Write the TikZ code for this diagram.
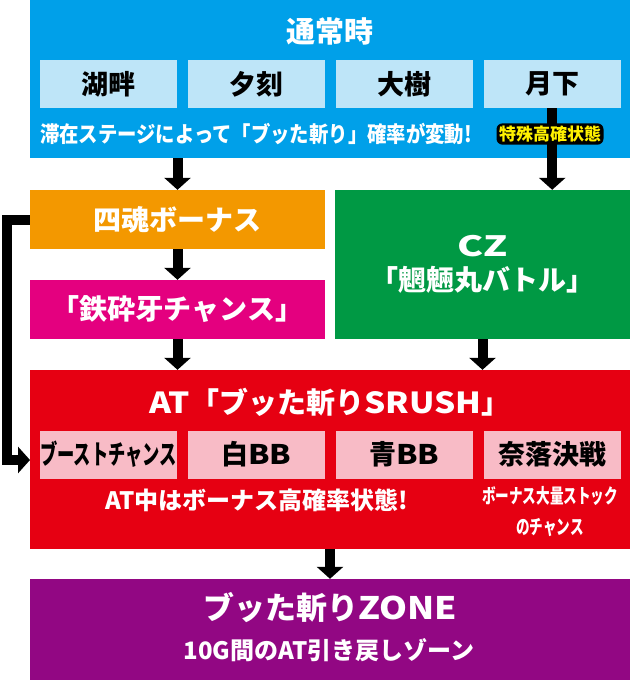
\documentclass[tikz,border=0pt]{standalone}
\usepackage{fontspec}
\setmainfont{Noto Sans CJK JP}[BoldFont={Noto Sans CJK JP Black}]
\usetikzlibrary{arrows.meta,positioning}

\definecolor{normalblue}{RGB}{0,160,233}
\definecolor{stageblue}{RGB}{190,229,248}
\definecolor{bonusorange}{RGB}{243,152,0}
\definecolor{czgreen}{RGB}{0,153,68}
\definecolor{chancepink}{RGB}{228,0,127}
\definecolor{rushred}{RGB}{230,0,18}
\definecolor{rushpink}{RGB}{248,187,198}
\definecolor{zonepurple}{RGB}{146,7,131}
\definecolor{tokuyellow}{RGB}{255,241,0}

\newcommand{\wide}[1]{\scalebox{1.15}[1]{#1}}

\tikzstyle{panel} = [rectangle, inner sep=0pt, minimum width=600pt]
\tikzstyle{half} = [rectangle, inner sep=0pt, minimum width=295pt, minimum height=59pt,
    text=white, align=center, font=\bfseries\fontsize{28}{34}\selectfont]
\tikzstyle{stage} = [rectangle, inner sep=0pt, minimum width=137pt, minimum height=48pt,
    font=\bfseries\fontsize{27}{27}\selectfont]
\tikzstyle{title} = [inner sep=0pt, text=white, font=\bfseries\fontsize{29}{29}\selectfont]
\tikzstyle{note} = [inner sep=0pt, text=white, align=center, font=\bfseries\fontsize{22}{31}\selectfont]
\tikzstyle{flow} = [draw, line width=10pt, -{Triangle[width=26pt,length=12pt]}]

\begin{document}
\begin{tikzpicture}[x=1pt, y=-1pt]
	\useasboundingbox (0,0) rectangle (630,680);

	% normal play
	\node [panel, fill=normalblue, minimum height=158pt] (normal) at (330,79) {};
	\node [title] (normaltitle) at (330,31) {通常時};
	\node [stage, fill=stageblue] (lake) at (108.5,84) {湖畔};
	\node [stage, fill=stageblue, right=10.5pt of lake] (dusk) {夕刻};
	\node [stage, fill=stageblue, right=10.5pt of dusk] (tree) {大樹};
	\node [stage, fill=stageblue, right=10.5pt of tree] (moon) {月下};
	\node [note, anchor=west] (stagenote) at (40,134) {\scalebox{0.88}[1]{滞在ステージによって「ブッた斬り」確率が変動!}};

	% bonus, chance and cz
	\node [half, fill=bonusorange] (yonkon) at (177.5,219.5) {四魂ボーナス};
	\node [half, fill=chancepink] (tessaiga) at (177.5,309.5) {「鉄砕牙チャンス」};
	\node [half, fill=czgreen, minimum height=149pt] (cz) at (482.5,264.5)
		{\scalebox{1.4}[1]{CZ}\\「魍魎丸バトル」};

	% at
	\node [panel, fill=rushred, minimum height=179pt] (rush) at (330,459.5) {};
	\node [title] (rushtitle) at (330,402) {\wide{AT}「ブッた斬り\wide{SRUSH}」};
	\node [stage, fill=rushpink] (boost) at (108.5,454.5) {\scalebox{0.64}[1]{ブーストチャンス}};
	\node [stage, fill=rushpink, right=10.5pt of boost] (white) {白\wide{BB}};
	\node [stage, fill=rushpink, right=10.5pt of white] (blue) {青\wide{BB}};
	\node [stage, fill=rushpink, right=10.5pt of blue] (naraku) {奈落決戦};
	\node [note, font=\bfseries\fontsize{24}{24}\selectfont] (rushnote) at (257,500) {AT中はボーナス高確率状態!};
	\node [note, font=\bfseries\fontsize{20}{31}\selectfont] (stocknote) at (550,512)
		{\scalebox{0.68}[1]{ボーナス大量ストック}\\\scalebox{0.68}[1]{のチャンス}};

	% zone
	\node [panel, fill=zonepurple, minimum height=101pt] (zone) at (330,629.5) {};
	\node [title, font=\bfseries\fontsize{31}{31}\selectfont] (zonetitle) at (330,608) {ブッた斬り\wide{ZONE}};
	\node [note, font=\bfseries\fontsize{24}{24}\selectfont] (zonenote) at (329,650) {10G間のAT引き戻しゾーン};

	\coordinate (rushin) at (30,460);

	\path [flow] (yonkon.north |- normal.south) -- (yonkon.north);
	\path [flow] (moon.south) -- (moon.south |- cz.north);
	\path [flow] (yonkon.south) -- (tessaiga.north);
	\path [flow] (tessaiga.south) -- (tessaiga.south |- rush.north);
	\path [flow] (cz.south) -- (cz.south |- rush.north);
	\path [flow] (yonkon.west) -- ++(-23,0) |- (rushin);
	\path [flow] (rush.south) -- (zone.north);

	\node [fill=black, rounded corners=6pt, inner sep=2.5pt, text=tokuyellow,
		font=\bfseries\fontsize{17}{17}\selectfont] (tokushu) at (550,134) {特殊高確状態};
\end{tikzpicture}
\end{document}
